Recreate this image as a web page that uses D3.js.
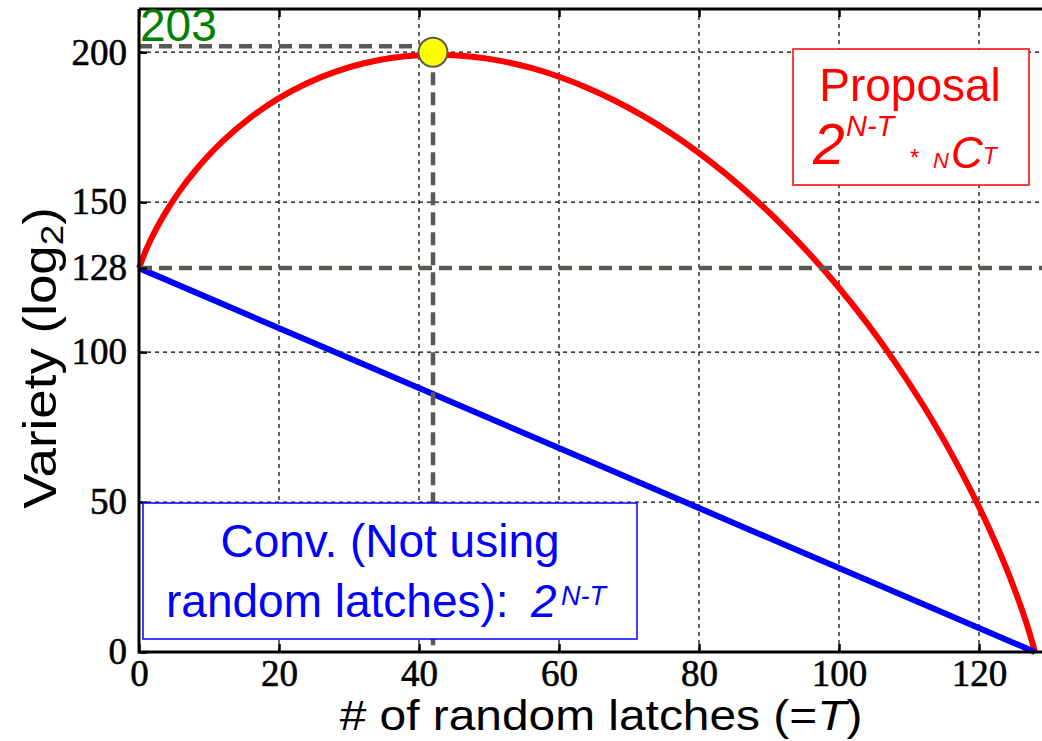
<!DOCTYPE html>
<html>
<head>
<meta charset="utf-8">
<script src="https://cdn.jsdelivr.net/npm/d3@7"></script>
<style>
  body { margin: 0; background: #fff; }
  svg { display: block; }
</style>
</head>
<body>
<script>
// values
const latchCounts = [0, 1, 2, 3, 4, 6, 8, 12, 16, 20, 24, 28, 32, 36, 40, 42, 44, 48, 52, 56, 60, 64,
  68, 72, 76, 80, 84, 88, 92, 96, 100, 104, 108, 112, 116, 120, 122, 124, 125, 126, 127, 128];
const proposalVariety = [128, 134, 138.99, 143.38, 147.35, 154.34, 160.38, 170.41, 178.35, 184.67, 189.65,
  193.46, 196.23, 198.04, 198.98, 199.13, 199.08, 198.39, 196.94, 194.74, 191.82, 188.17, 183.82, 178.74,
  172.94, 166.39, 159.08, 150.98, 142.04, 132.23, 121.46, 109.65, 96.67, 82.35, 66.41, 48.38, 38.34,
  27.35, 21.38, 14.99, 8, 0];
const convLatches = [0, 32, 64, 96, 128];
const convVariety = [128, 96, 64, 32, 0];

const xTicks = [0, 20, 40, 60, 80, 100, 120];
const yTicks = [0, 50, 100, 128, 150, 200];
const xGrid = [20, 40, 60, 80, 100, 120];
const yGrid = [50, 100, 150, 200];

const peakT = 42;
const peakValue = 200;
const peakGuide = 202;
const peakLabel = "203";
const baseGuide = 128;

const width = 1042, height = 741;
const plotLeft = 139, plotBottom = 652, plotTop = 9, plotRight = 1042;

const svg = d3.select("body").append("svg")
  .attr("width", width)
  .attr("height", height);

const x = d3.scaleLinear().domain([0, 128]).range([plotLeft, 1035]);
const y = d3.scaleLinear().domain([0, 214.4]).range([plotBottom, plotTop]);

// grid
svg.append("g").selectAll("line").data(xGrid).enter().append("line")
  .attr("x1", d => x(d)).attr("x2", d => x(d))
  .attr("y1", plotBottom).attr("y2", plotTop)
  .attr("stroke", "#000").attr("stroke-width", 1.2).attr("stroke-dasharray", "4,4");
svg.append("g").selectAll("line").data(yGrid).enter().append("line")
  .attr("x1", plotLeft).attr("x2", plotRight)
  .attr("y1", d => y(d)).attr("y2", d => y(d))
  .attr("stroke", "#000").attr("stroke-width", 1.2).attr("stroke-dasharray", "4,4");

// curves
const proposal = latchCounts.map((t, i) => [t, proposalVariety[i]]);
const conv = convLatches.map((t, i) => [t, convVariety[i]]);

svg.append("path").datum(proposal)
  .attr("d", d3.line().x(d => x(d[0])).y(d => y(d[1])).curve(d3.curveMonotoneX))
  .attr("fill", "none").attr("stroke", "#ff0000").attr("stroke-width", 6);
svg.append("path").datum(conv)
  .attr("d", d3.line().x(d => x(d[0])).y(d => y(d[1])))
  .attr("fill", "none").attr("stroke", "#0000ff").attr("stroke-width", 6);

// gray guide lines
const guide = svg.append("g")
  .attr("stroke", "#5a5a55").attr("stroke-width", 4.5).attr("stroke-dasharray", "13,7");
guide.append("line")
  .attr("x1", plotLeft).attr("x2", plotRight)
  .attr("y1", y(baseGuide)).attr("y2", y(baseGuide));
guide.append("line")
  .attr("x1", plotLeft).attr("x2", x(peakT))
  .attr("y1", y(peakGuide)).attr("y2", y(peakGuide));
guide.append("line")
  .attr("x1", x(peakT)).attr("x2", x(peakT))
  .attr("y1", y(peakValue)).attr("y2", plotBottom);

svg.append("circle")
  .attr("cx", x(peakT)).attr("cy", y(peakValue)).attr("r", 14.5)
  .attr("fill", "#ffff00").attr("stroke", "#5a5a55").attr("stroke-width", 2);

// axes
const xAxis = svg.append("g")
  .attr("transform", `translate(0,${plotBottom})`)
  .call(d3.axisBottom(x).tickValues(xTicks).tickSizeInner(-8).tickSizeOuter(0).tickPadding(8));
const xTop = svg.append("g")
  .attr("transform", `translate(0,${plotTop})`)
  .call(d3.axisTop(x).tickValues(xTicks).tickSizeInner(-8).tickSizeOuter(0).tickFormat(""));
const yAxis = svg.append("g")
  .attr("transform", `translate(${plotLeft},0)`)
  .call(d3.axisLeft(y).tickValues(yTicks).tickSizeInner(-8).tickSizeOuter(0).tickPadding(12));

[xAxis, xTop, yAxis].forEach(g => {
  g.select(".domain").remove();
  g.selectAll(".tick line").attr("stroke", "#000").attr("stroke-width", 2.5);
  g.selectAll("text")
    .attr("fill", "#000")
    .attr("stroke", "#000").attr("stroke-width", 0.6)
    .style("font-family", "'Liberation Serif', 'Times New Roman', serif")
    .style("font-size", "37px");
});

// frame
const frame = svg.append("g").attr("stroke", "#000").attr("stroke-width", 3);
frame.append("line").attr("x1", plotLeft).attr("x2", plotRight).attr("y1", plotBottom).attr("y2", plotBottom);
frame.append("line").attr("x1", plotLeft).attr("x2", plotRight).attr("y1", plotTop).attr("y2", plotTop);
frame.append("line").attr("x1", plotLeft).attr("x2", plotLeft).attr("y1", plotTop).attr("y2", plotBottom + 1.5);

// peak label
svg.append("text")
  .attr("x", 140).attr("y", 41)
  .attr("fill", "#008000")
  .style("font-family", "'Liberation Sans', Arial, sans-serif")
  .style("font-size", "46px")
  .text(peakLabel);

// proposal box
svg.append("rect")
  .attr("x", 793).attr("y", 49).attr("width", 236).attr("height", 136)
  .attr("fill", "#fff").attr("stroke", "#ff0000").attr("stroke-width", 1.5);
const propText = svg.append("g")
  .attr("fill", "#ff0000")
  .style("font-family", "'Liberation Sans', Arial, sans-serif");
propText.append("text")
  .attr("x", 910).attr("y", 101).attr("text-anchor", "middle")
  .style("font-size", "46px").text("Proposal");
const formula = propText.append("text").style("font-style", "italic");
formula.append("tspan").attr("x", 813).attr("y", 164).style("font-size", "57px").text("2");
formula.append("tspan").attr("x", 846).attr("y", 136).style("font-size", "29px").text("N-T");
formula.append("tspan").attr("x", 910).attr("y", 166).style("font-size", "24px").style("font-style", "normal").text("*");
formula.append("tspan").attr("x", 933).attr("y", 168).style("font-size", "22px").text("N");
formula.append("tspan").attr("x", 951).attr("y", 168).style("font-size", "44px").text("C");
formula.append("tspan").attr("x", 983).attr("y", 164).style("font-size", "23px").text("T");

// conventional box
svg.append("rect")
  .attr("x", 143).attr("y", 503).attr("width", 494).attr("height", 136)
  .attr("fill", "#fff").attr("stroke", "#0000ff").attr("stroke-width", 1.5);
const convText = svg.append("g")
  .attr("fill", "#0000ff")
  .style("font-family", "'Liberation Sans', Arial, sans-serif")
  .style("font-size", "46px");
convText.append("text")
  .attr("x", 390).attr("y", 557).attr("text-anchor", "middle")
  .text("Conv. (Not using");
const convLine2 = convText.append("text").attr("y", 617);
convLine2.append("tspan").attr("x", 166).text("random latches): ");
convLine2.append("tspan").attr("x", 531).style("font-style", "italic").text("2");
convLine2.append("tspan").attr("x", 561).attr("y", 605)
  .style("font-style", "italic").style("font-size", "27px").text("N-T");

// axis titles
const xTitle = svg.append("text")
  .attr("transform", "translate(601,730) scale(1.14,1)")
  .attr("text-anchor", "middle")
  .style("font-family", "'Liberation Sans', Arial, sans-serif")
  .style("font-size", "42px");
xTitle.append("tspan").text("# of random latches (=");
xTitle.append("tspan").style("font-style", "italic").text("T");
xTitle.append("tspan").text(")");

const yTitle = svg.append("text")
  .attr("transform", "translate(56,358) rotate(-90) scale(1.15,1)")
  .attr("text-anchor", "middle")
  .style("font-family", "'Liberation Sans', Arial, sans-serif")
  .style("font-size", "46px");
yTitle.append("tspan").text("Variety (log");
yTitle.append("tspan").attr("dy", 7).style("font-size", "32px").text("2");
yTitle.append("tspan").attr("dy", -7).text(")");
</script>
</body>
</html>
